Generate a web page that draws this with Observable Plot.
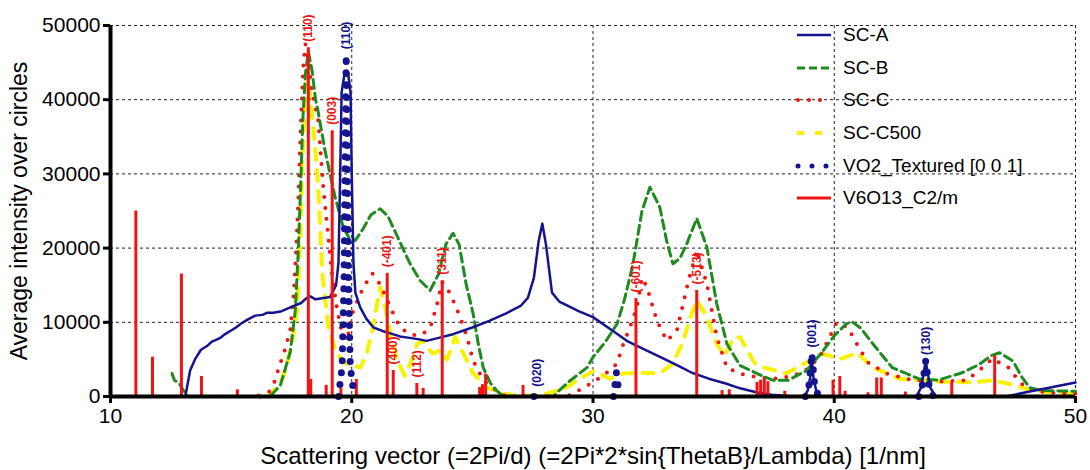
<!DOCTYPE html>
<html><head><meta charset="utf-8">
<script src="https://cdn.jsdelivr.net/npm/d3@7"></script>
<script src="https://cdn.jsdelivr.net/npm/@observablehq/plot@0.6"></script>
<style>
body{margin:0;background:#fff;font-family:"Liberation Sans",Arial,sans-serif;}
#wrap{position:relative;width:1090px;height:470px;}
#legend{position:absolute;left:795px;top:19px;}
.row{height:32.6px;display:flex;align-items:center;font-size:19px;color:#000;white-space:nowrap;}
.row svg{width:38px;height:12px;margin-right:10px;}
</style></head><body><div id="wrap"></div>
<script>
// ---- data ----
const xTicks = [10, 20, 30, 40, 50];
const yTicks = [0, 10000, 20000, 30000, 40000, 50000];
const xGrid = [20, 30, 40, 50];
const yGrid = [10000, 20000, 30000, 40000, 50000];
const xTitle = "Scattering vector (=2Pi/d) (=2Pi*2*sin{ThetaB}/Lambda) [1/nm]";
const yTitle = "Average intensity over circles";

const seriesNames = ["SC-A", "SC-B", "SC-C", "SC-C500", "VO2_Textured [0 0 1]", "V6O13_C2/m"];

const scA = [[13.1,0],[13.3,3500],[13.5,5000],[13.75,6300],[14.0,6800],[14.2,7400],[14.35,7600],[14.55,7900],[14.7,8300],[15.0,8900],[15.2,9300],[15.4,9800],[15.7,10400],[16.0,10900],[16.3,11000],[16.5,11300],[16.75,11300],[17.1,11500],[17.45,12000],[17.9,12600],[18.1,13200],[18.28,13500],[18.5,13100],[18.7,13200],[19.1,13400],[19.35,15000],[19.45,18000],[19.52,30000],[19.58,41000],[19.7,43500],[19.85,43500],[19.95,41000],[20.0,30000],[20.07,18000],[20.15,14000],[20.35,12000],[20.6,10500],[20.9,9300],[21.3,8800],[21.6,8500],[22.0,8100],[22.4,7900],[22.8,7700],[23.1,7500],[23.6,7900],[24.2,8400],[25.0,9300],[25.7,10200],[26.4,11200],[27.0,12200],[27.3,13300],[27.55,16000],[27.75,21000],[27.9,23300],[28.05,20500],[28.3,14000],[28.6,12800],[28.9,12300],[29.4,11500],[30.0,10700],[30.8,8900],[31.4,7500],[32.1,6400],[32.8,5300],[33.5,4200],[34.1,3200],[34.8,2400],[35.5,1750],[36.1,1100],[36.8,550],[37.4,250],[38.2,50],[38.75,0],[38.9,800],[39.0,2500],[39.07,5000],[39.14,2500],[39.25,800],[39.4,0],[43.4,0],[43.6,1200],[43.79,4800],[43.98,1200],[44.2,0],[47.1,0],[48.0,600],[48.8,1100],[50,1900]];

const scB = [[12.55,3100],[12.65,2200],[12.85,1800],[13.0,900],[13.25,0],[16.6,0],[17.04,1500],[17.45,6000],[17.66,11600],[17.78,19300],[17.88,28200],[17.97,37200],[18.08,43500],[18.2,46500],[18.35,44000],[18.5,40000],[18.6,38500],[18.9,33000],[19.3,27000],[19.65,22800],[19.9,21300],[20.14,21000],[20.45,22500],[20.8,24500],[21.18,25300],[21.5,24300],[21.9,21500],[22.4,18000],[22.84,15600],[23.25,14300],[23.6,16500],[23.9,20500],[24.2,22000],[24.45,20500],[24.75,15000],[25.03,11200],[25.25,7000],[25.45,3900],[25.75,1800],[26.0,800],[26.3,0],[28.35,0],[28.5,500],[29.0,2000],[29.75,3900],[30.0,5300],[30.5,7300],[31.0,9800],[31.3,13000],[31.66,17900],[32.03,25000],[32.36,28200],[32.77,25500],[33.05,21000],[33.31,17900],[33.6,18600],[33.89,20600],[34.3,24000],[34.72,20100],[35.13,12500],[35.55,7100],[36.09,4200],[36.79,3100],[37.45,2200],[38.1,2200],[38.85,3500],[39.5,6000],[40.0,8200],[40.5,9800],[40.77,10000],[41.1,9200],[41.6,7100],[42.4,3900],[43.5,2400],[44.3,2200],[45.3,3200],[46.0,4300],[46.5,5500],[46.85,5900],[47.4,4800],[47.8,2500],[48.1,1200],[48.6,800],[50,700]];

const scC = [[16.2,0],[16.5,300],[16.75,1500],[17.04,4500],[17.25,6500],[17.45,9000],[17.6,14000],[17.7,20000],[17.78,26000],[17.85,33000],[17.93,40000],[18.0,45000],[18.08,47500],[18.2,45500],[18.35,41000],[18.61,37200],[18.82,28200],[19.03,21400],[19.2,16000],[19.4,11600],[19.6,8500],[19.8,7500],[20.06,11600],[20.48,14700],[20.85,16600],[21.2,15000],[21.6,12000],[22.0,9300],[22.4,8400],[22.71,8200],[23.0,8600],[23.25,9200],[23.54,12500],[23.75,15400],[24.08,13900],[24.49,10700],[24.78,8000],[25.03,4850],[25.45,2200],[26.0,800],[26.4,0],[28.9,0],[29.4,800],[30.0,1900],[30.5,3000],[30.99,4400],[31.24,6900],[31.55,9500],[31.82,12000],[32.03,16000],[32.24,14700],[32.65,10200],[33.06,7500],[33.48,8900],[33.89,14700],[34.3,19700],[34.72,15200],[35.13,8000],[35.55,3900],[36.09,3100],[36.79,2600],[37.74,2400],[38.7,3200],[39.4,5300],[39.73,7500],[40.1,10000],[40.56,9300],[40.97,6900],[41.39,4600],[42.17,3100],[43.25,2200],[44.5,2000],[45.49,2200],[46.0,3500],[46.56,5100],[47.27,3800],[47.68,1900],[48.22,800],[49.0,500],[50,400]];

const scC500 = [[16.5,0],[16.9,1200],[17.04,1750],[17.3,4000],[17.54,7500],[17.74,11600],[17.87,22000],[17.97,33000],[18.07,40000],[18.2,43000],[18.35,38000],[18.5,33000],[18.61,28200],[18.78,16600],[19.03,9300],[19.3,6500],[19.55,5000],[19.81,4400],[20.35,3900],[20.6,5500],[20.85,8900],[21.18,14700],[21.39,12000],[21.6,8500],[21.88,4850],[22.2,2800],[22.5,5000],[22.71,7100],[22.96,7500],[23.15,6500],[23.37,5800],[23.66,6200],[23.95,5000],[24.29,8000],[24.62,5800],[25.03,3100],[25.61,1200],[26.27,400],[27.0,0],[28.0,300],[28.9,1200],[29.5,2500],[30.0,3400],[30.7,2400],[31.24,3100],[31.95,3200],[32.77,3100],[33.3,4400],[33.7,7100],[34.1,11200],[34.3,13000],[34.72,10700],[35.13,7100],[35.45,5500],[35.8,7800],[36.1,8000],[36.4,6200],[36.7,4500],[37.1,3900],[38.0,3100],[38.8,4500],[39.4,5800],[40.3,5100],[40.95,5900],[41.6,3900],[42.7,2400],[44.5,2000],[45.7,1900],[46.6,2200],[47.5,1500],[48.1,900],[49.0,500],[50,300]];

const vo2_110 = [[19.45,0],[19.6,4000],[19.68,16000],[19.73,34000],[19.77,46000],[19.81,34000],[19.86,16000],[19.94,4000],[20.1,0]];
const vo2_020 = [[27.55,0],[27.7,500],[27.85,0]];
const vo2_310 = [[30.85,0],[30.97,3200],[31.1,0]];
const vo2_001 = [[38.8,0],[38.95,1500],[39.07,5800],[39.19,1500],[39.35,0]];
const vo2_130 = [[43.5,0],[43.65,1500],[43.79,4800],[43.93,1500],[44.1,0]];

const v6Bars = [[11.05,25000],[11.74,5300],[12.94,16500],[13.77,2700],[15.26,900],[16.13,300],[18.2,47000],[18.3,2300],[18.94,1500],[19.19,35800],[19.55,1100],[20.19,2300],[21.47,16600],[21.72,3500],[22.7,1750],[22.96,1100],[23.75,15600],[25.3,1200],[25.42,1600],[25.55,3000],[27.1,1500],[31.78,13200],[34.3,14300],[35.35,800],[35.65,900],[36.8,1900],[36.95,2200],[37.1,2300],[37.25,2000],[37.95,700],[39.95,2200],[40.23,2700],[40.45,700],[41.4,500],[41.76,2500],[41.95,2500],[42.95,600],[44.87,1900],[46.65,5500]];

const v6LabelText = ["(110)","(003)","(-401)","(400)","(112)","(311)","(-601)","(-513)"];
const v6LabelX = [18.2, 19.19, 21.47, 21.72, 22.7, 23.75, 31.78, 34.3];
const v6LabelY = [47000, 35800, 16600, 3500, 1750, 15600, 13200, 14300];

const vo2LabelText = ["(110)","(020)","(001)","(130)"];
const vo2LabelX = [19.77, 27.7, 39.07, 43.79];
const vo2LabelY = [46000, 500, 5800, 4800];

// ---- styles ----
const navy = "#14148f", green = "#1f8a1f", red = "#f01414", yellow = "#f7f200";
const legendStyle = [
  {stroke: navy, width: 2.5, dash: null, cap: "butt"},
  {stroke: green, width: 3, dash: "8,4", cap: "butt"},
  {stroke: red, width: 4, dash: "0,11", cap: "round"},
  {stroke: yellow, width: 4, dash: "7,11", cap: "butt"},
  {stroke: navy, width: 5, dash: "0,14", cap: "round"},
  {stroke: red, width: 3, dash: null, cap: "butt"}
];

const vo2Rows = [["110", vo2_110], ["020", vo2_020], ["310", vo2_310], ["001", vo2_001], ["130", vo2_130]]
  .flatMap(([k, pts]) => pts.map(p => ({peak: k, x: p[0], y: p[1]})));
const v6Labels = v6LabelText.map((t, i) => ({t, x: v6LabelX[i], y: v6LabelY[i]}));
const vo2Labels = vo2LabelText.map((t, i) => ({t, x: vo2LabelX[i], y: vo2LabelY[i]}));

const X = d => d[0], Y = d => d[1];
const font = "Liberation Sans, Arial, sans-serif";

const chart = Plot.plot({
  width: 1090, height: 470,
  marginLeft: 110, marginRight: 15, marginTop: 25, marginBottom: 74,
  x: {domain: [10, 50]},
  y: {domain: [0, 50000]},
  style: {fontFamily: font, background: "#fff", color: "#000"},
  marks: [
    Plot.ruleX(xGrid, {stroke: "#222", strokeWidth: 1, strokeDasharray: "3,3"}),
    Plot.ruleY(yGrid, {stroke: "#222", strokeWidth: 1, strokeDasharray: "3,3"}),
    Plot.line(scC500, {x: X, y: Y, stroke: yellow, strokeWidth: 4, strokeDasharray: "11,10"}),
    Plot.line(scC, {x: X, y: Y, stroke: red, strokeWidth: 4, strokeDasharray: "0,11", strokeLinecap: "round"}),
    Plot.line(scB, {x: X, y: Y, stroke: green, strokeWidth: 3, strokeDasharray: "9,5"}),
    Plot.line(scA, {x: X, y: Y, stroke: navy, strokeWidth: 2.5}),
    Plot.ruleX(v6Bars, {x: X, y: Y, stroke: red, strokeWidth: 3}),
    Plot.line(vo2Rows, {x: "x", y: "y", z: "peak", stroke: navy, strokeWidth: 7, strokeDasharray: "0,12", strokeLinecap: "round"}),
    Plot.ruleY([0], {stroke: "#000", strokeWidth: 4}),
    Plot.ruleX([10], {stroke: "#000", strokeWidth: 4}),
    Plot.axisX({ticks: xTicks, tickSize: 7, strokeWidth: 3, fontSize: 21, tickPadding: 5, label: null}),
    Plot.axisX({ticks: [], tickSize: 0, label: xTitle, labelAnchor: "center", labelArrow: "none", labelOffset: 67, fontSize: 24}),
    Plot.axisY({ticks: yTicks, tickSize: 7, strokeWidth: 3, fontSize: 21, tickPadding: 3, tickFormat: d3.format("d"), label: null}),
    Plot.axisY({ticks: [], tickSize: 0, label: yTitle, labelAnchor: "center", labelArrow: "none", labelOffset: 100, fontSize: 23}),
    Plot.text(v6Labels, {x: "x", y: "y", text: "t", rotate: -90, textAnchor: "start", dy: -6, fill: red, fontSize: 12, fontWeight: "bold"}),
    Plot.text(vo2Labels, {x: "x", y: "y", text: "t", rotate: -90, textAnchor: "start", dy: -6, fill: navy, fontSize: 12, fontWeight: "bold"})
  ]
});

const wrap = document.getElementById("wrap");
wrap.appendChild(chart);

const legend = document.createElement("div");
legend.id = "legend";
seriesNames.forEach((name, i) => {
  const s = legendStyle[i];
  const row = document.createElement("div");
  row.className = "row";
  const x1 = s.cap === "round" ? 3 : 2;
  row.innerHTML = `<svg viewBox="0 0 38 12"><line x1="${x1}" x2="36" y1="6" y2="6" stroke="${s.stroke}" stroke-width="${s.width}" ${s.dash ? `stroke-dasharray="${s.dash}"` : ""} stroke-linecap="${s.cap}"/></svg><span>${name}</span>`;
  legend.appendChild(row);
});
wrap.appendChild(legend);
</script></body></html>
